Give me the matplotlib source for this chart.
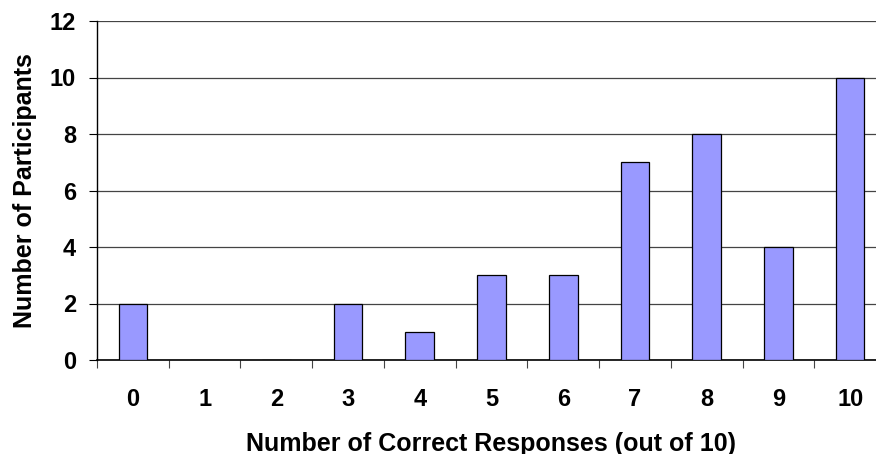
import matplotlib.pyplot as plt
import numpy as np

# data
scores = list(range(11))
participants = [2, 0, 0, 2, 1, 3, 3, 7, 8, 4, 10]
yticks = [0, 2, 4, 6, 8, 10, 12]

plt.rcParams["font.family"] = ["Liberation Sans", "DejaVu Sans"]
plt.rcParams["font.weight"] = "bold"

fig = plt.figure(figsize=(8.76, 4.54), dpi=100)
ax = fig.add_axes([97 / 876, 94 / 454, 789 / 876, 339 / 454])

ax.bar(scores, participants, width=0.4, color="#9999FF", edgecolor="black",
       linewidth=0.9, zorder=3)

ax.set_xlim(-0.5, 10.5)
ax.set_ylim(0, 12)
ax.set_yticks(yticks)
ax.yaxis.grid(True, color="#444444", linewidth=0.9, zorder=0)

# Excel-style ticks between categories, labels centred
ax.set_xticks(np.arange(-0.5, 11, 1))
ax.set_xticklabels([])
ax.set_xticks(scores, minor=True)
ax.set_xticklabels([str(s) for s in scores], minor=True)
ax.tick_params(axis="x", which="major", length=6, width=0.8, color="#444444")
ax.tick_params(axis="x", which="minor", length=0, pad=20, labelsize=17)
ax.tick_params(axis="y", length=6, width=0.8, labelsize=17, pad=9)

for s in ["top", "right"]:
    ax.spines[s].set_visible(False)
ax.spines["left"].set_linewidth(1)
ax.spines["bottom"].set_linewidth(1.2)

ax.set_xlabel("Number of Correct Responses (out of 10)", fontsize=18,
              fontweight="bold", labelpad=15)
ax.set_ylabel("Number of Participants", fontsize=18, fontweight="bold",
              labelpad=9)

fig.savefig("out.png", dpi=100)
